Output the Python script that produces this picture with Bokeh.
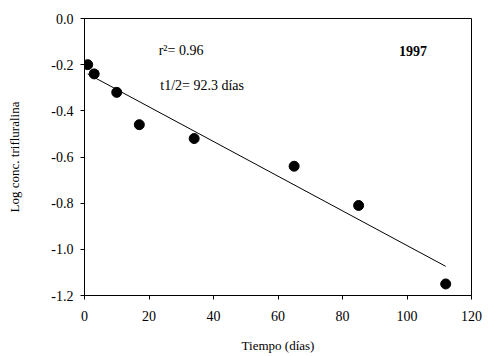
import numpy as np
from bokeh.plotting import figure
from bokeh.models import Range1d, FixedTicker, Label, PrintfTickFormatter
from bokeh.embed import file_html
from bokeh.resources import INLINE

# Data
dias = [1, 3, 10, 17, 34, 65, 85, 112]
log_conc = [-0.20, -0.24, -0.32, -0.46, -0.52, -0.64, -0.81, -1.15]
fit_intercept = -0.2325
fit_slope = -0.00751
x_ticks = [0, 20, 40, 60, 80, 100, 120]
y_ticks = [-1.2, -1.0, -0.8, -0.6, -0.4, -0.2, 0.0]

FONT = "'Liberation Serif', 'Times New Roman', serif"

p = figure(width=483, height=356, output_backend="svg", toolbar_location=None,
           x_range=Range1d(0, 120), y_range=Range1d(-1.2, 0.0),
           min_border_left=84, min_border_top=18, min_border_right=12, min_border_bottom=61)
p.background_fill_color = "white"
p.border_fill_color = "white"
p.outline_line_color = "black"
p.outline_line_width = 1
p.xgrid.visible = False
p.ygrid.visible = False

for ax in (p.xaxis[0], p.yaxis[0]):
    ax.axis_line_color = "black"
    ax.major_tick_line_color = "black"
    ax.minor_tick_line_color = None
    ax.major_tick_in = 0
    ax.major_tick_out = 4
    ax.major_label_text_font = FONT
    ax.major_label_text_font_size = "14px"
    ax.major_label_text_color = "black"
    ax.axis_label_text_font = FONT
    ax.axis_label_text_font_size = "13px"
    ax.axis_label_text_font_style = "normal"
    ax.axis_label_text_color = "black"

p.xaxis[0].ticker = FixedTicker(ticks=x_ticks)
p.yaxis[0].ticker = FixedTicker(ticks=y_ticks)
p.yaxis[0].formatter = PrintfTickFormatter(format="%.1f")
p.xaxis[0].axis_label = "Tiempo (días)"
p.yaxis[0].axis_label = "Log conc. trifluralina"
p.xaxis[0].major_label_standoff = 11
p.yaxis[0].major_label_standoff = 7
p.xaxis[0].axis_label_standoff = 14
p.yaxis[0].axis_label_standoff = 26

fx = np.array([dias[0], dias[-1]], dtype=float)
fy = fit_intercept + fit_slope * fx
p.line(fx, fy, line_color="black", line_width=1)
p.scatter(dias, log_conc, size=10, fill_color="black", line_color="black")

p.add_layout(Label(x=23, y=-0.14, text="r²= 0.96", text_font=FONT, text_font_size="14px",
                   text_baseline="middle", text_color="black"))
p.add_layout(Label(x=23.5, y=-0.29, text="t1/2= 92.3 días", text_font=FONT, text_font_size="14px",
                   text_baseline="middle", text_color="black"))
p.add_layout(Label(x=97.5, y=-0.14, text="1997", text_font=FONT, text_font_size="14px",
                   text_font_style="bold", text_baseline="middle", text_color="black"))

open("out.html", "w").write(file_html(p, INLINE))
